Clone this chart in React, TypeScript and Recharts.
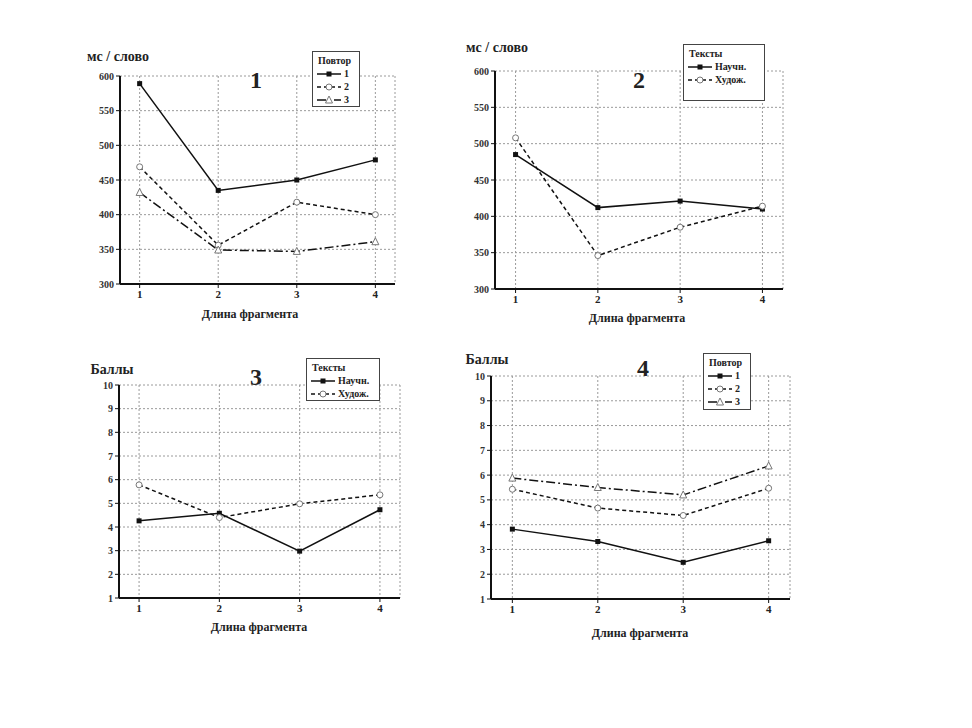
import React from "react";
import { LineChart, Line, XAxis, YAxis, CartesianGrid, Legend } from "recharts";

// fragment length (x categories)
const fragLengths = [1, 2, 3, 4];

// panel 1: ms / word by repetition
const p1Rep1 = [589, 435, 450, 479];
const p1Rep2 = [469, 356, 418, 400];
const p1Rep3 = [432, 349, 347, 361];

// panel 2: ms / word by text type
const p2Sci = [485, 412, 421, 410];
const p2Art = [508, 346, 385, 414];

// panel 3: scores by text type
const p3Sci = [4.26, 4.58, 2.98, 4.73];
const p3Art = [5.78, 4.4, 4.98, 5.36];

// panel 4: scores by repetition
const p4Rep1 = [3.82, 3.32, 2.48, 3.35];
const p4Rep2 = [5.43, 4.67, 4.37, 5.47];
const p4Rep3 = [5.88, 5.5, 5.2, 6.37];

const msTicks = [300, 350, 400, 450, 500, 550, 600];
const scoreTicks = [1, 2, 3, 4, 5, 6, 7, 8, 9, 10];

const repLabels = ["1", "2", "3"];
const textLabels = ["Научн.", "Худож."];

const FONT = "Liberation Serif, Times New Roman, DejaVu Serif, serif";

type MarkerKind = "square" | "circle" | "triangle";

interface SeriesDef {
  key: string;
  name: string;
  dash?: string;
  marker: MarkerKind;
}

const seriesStyles: { dash?: string; marker: MarkerKind }[] = [
  { dash: undefined, marker: "square" },
  { dash: "4 3", marker: "circle" },
  { dash: "9 3 2 3", marker: "triangle" },
];

const Marker = ({ cx, cy, kind }: { cx: number; cy: number; kind: MarkerKind }) => {
  if (kind === "square")
    return <rect x={cx - 2.5} y={cy - 2.5} width={5} height={5} fill="#111" />;
  if (kind === "circle")
    return <circle cx={cx} cy={cy} r={3} fill="#fff" stroke="#777" strokeWidth={1} />;
  return (
    <polygon
      points={`${cx},${cy - 4} ${cx - 3.5},${cy + 3} ${cx + 3.5},${cy + 3}`}
      fill="#fff"
      stroke="#777"
      strokeWidth={1}
    />
  );
};

const makeData = (arrays: number[][]) =>
  fragLengths.map((x, i) => {
    const row: Record<string, number> = { x };
    arrays.forEach((arr, j) => (row["s" + j] = arr[i]));
    return row;
  });

interface PanelProps {
  plotLeft: number;
  plotTop: number;
  plotW: number;
  plotH: number;
  arrays: number[][];
  names: string[];
  yTicks: number[];
  yLabel: string;
  yLabelPos: [number, number];
  title: string;
  titlePos: [number, number];
  xLabelPos: [number, number];
  legendTitle: string;
  legendBox: [number, number, number, number];
}

const Panel = (p: PanelProps) => {
  const padL = 45;
  const padT = 40;
  const padB = 45;
  const padR = 15;
  const boxLeft = p.plotLeft - padL;
  const boxTop = p.plotTop - padT;
  const data = makeData(p.arrays);
  const series: SeriesDef[] = p.names.map((n, i) => ({
    key: "s" + i,
    name: n,
    ...seriesStyles[i],
  }));

  const legendContent = () => (
    <div
      style={{
        width: p.legendBox[2],
        height: p.legendBox[3],
        boxSizing: "border-box",
        border: "1px solid #444",
        background: "#fff",
        fontFamily: FONT,
        fontWeight: "bold",
        fontSize: 10,
        color: "#222",
        padding: "2px 3px",
        lineHeight: "13px",
      }}
    >
      <div style={{ paddingLeft: 2 }}>{p.legendTitle}</div>
      {series.map((s) => (
        <div key={s.key} style={{ display: "flex", alignItems: "center", whiteSpace: "nowrap" }}>
          <svg width={26} height={10} style={{ marginRight: 2 }}>
            <line x1={1} y1={5} x2={25} y2={5} stroke="#111" strokeWidth={1.5} strokeDasharray={s.dash} />
            <Marker cx={13} cy={5} kind={s.marker} />
          </svg>
          <span>{s.name}</span>
        </div>
      ))}
    </div>
  );

  const textStyle = (pos: [number, number], size: number): React.CSSProperties => ({
    position: "absolute",
    left: pos[0],
    top: pos[1],
    transform: "translate(-50%, -50%)",
    fontFamily: FONT,
    fontWeight: "bold",
    fontSize: size,
    color: "#222",
    whiteSpace: "nowrap",
  });

  return (
    <>
      <div style={{ position: "absolute", left: boxLeft, top: boxTop }}>
        <LineChart
          width={p.plotW + padL + padR}
          height={p.plotH + padT + padB}
          data={data}
          margin={{ top: padT, right: padR, left: padL - 30, bottom: padB - 30 }}
        >
          <CartesianGrid stroke="#9a9a9a" strokeDasharray="2 2" />
          <XAxis
            dataKey="x"
            type="number"
            domain={[0.75, 4.25]}
            ticks={fragLengths}
            height={30}
            axisLine={{ stroke: "#111", strokeWidth: 2 }}
            tickLine={{ stroke: "#111" }}
            tickSize={4}
            tick={{ fill: "#222", fontSize: 11, fontFamily: FONT, fontWeight: "bold" }}
          />
          <YAxis
            type="number"
            domain={[p.yTicks[0], p.yTicks[p.yTicks.length - 1]]}
            ticks={p.yTicks}
            width={30}
            axisLine={{ stroke: "#111", strokeWidth: 2 }}
            tickLine={{ stroke: "#111" }}
            tickSize={4}
            tick={{ fill: "#333", fontSize: 10, fontFamily: FONT, fontWeight: "bold" }}
          />
          <Legend
            layout="horizontal"
            verticalAlign="middle"
            align="center"
            content={legendContent}
            wrapperStyle={{
              left: p.legendBox[0] - boxLeft,
              top: p.legendBox[1] - boxTop,
              width: p.legendBox[2],
              height: p.legendBox[3],
            }}
          />
          {series.map((s) => (
            <Line
              key={s.key}
              dataKey={s.key}
              name={s.name}
              stroke="#111"
              strokeWidth={1.5}
              strokeDasharray={s.dash}
              isAnimationActive={false}
              dot={(d: any) => <Marker key={`${s.key}-${d.index}`} cx={d.cx} cy={d.cy} kind={s.marker} />}
              activeDot={false}
            />
          ))}
        </LineChart>
      </div>
      <div style={textStyle(p.yLabelPos, 14)}>{p.yLabel}</div>
      <div style={textStyle(p.titlePos, 24)}>{p.title}</div>
      <div style={textStyle(p.xLabelPos, 12)}>Длина фрагмента</div>
    </>
  );
};

export default function App() {
  return (
    <div style={{ position: "absolute", left: 0, top: 0, width: 972, height: 728, background: "#fff" }}>
      <Panel
        plotLeft={120}
        plotTop={76}
        plotW={275}
        plotH={208}
        arrays={[p1Rep1, p1Rep2, p1Rep3]}
        names={repLabels}
        yTicks={msTicks}
        yLabel="мс / слово"
        yLabelPos={[118, 57]}
        title="1"
        titlePos={[256, 80]}
        xLabelPos={[250, 314]}
        legendTitle="Повтор"
        legendBox={[312, 51, 48, 56]}
      />
      <Panel
        plotLeft={495}
        plotTop={71}
        plotW={288}
        plotH={218}
        arrays={[p2Sci, p2Art]}
        names={textLabels}
        yTicks={msTicks}
        yLabel="мс / слово"
        yLabelPos={[497, 48]}
        title="2"
        titlePos={[639, 80]}
        xLabelPos={[637, 318]}
        legendTitle="Тексты"
        legendBox={[683, 44, 82, 57]}
      />
      <Panel
        plotLeft={119}
        plotTop={385}
        plotW={281}
        plotH={213}
        arrays={[p3Sci, p3Art]}
        names={textLabels}
        yTicks={scoreTicks}
        yLabel="Баллы"
        yLabelPos={[112, 370]}
        title="3"
        titlePos={[256, 377]}
        xLabelPos={[259, 627]}
        legendTitle="Тексты"
        legendBox={[306, 358, 74, 43]}
      />
      <Panel
        plotLeft={491}
        plotTop={376}
        plotW={299}
        plotH={223}
        arrays={[p4Rep1, p4Rep2, p4Rep3]}
        names={repLabels}
        yTicks={scoreTicks}
        yLabel="Баллы"
        yLabelPos={[487, 360]}
        title="4"
        titlePos={[643, 368]}
        xLabelPos={[640, 633]}
        legendTitle="Повтор"
        legendBox={[703, 353, 48, 57]}
      />
    </div>
  );
}
